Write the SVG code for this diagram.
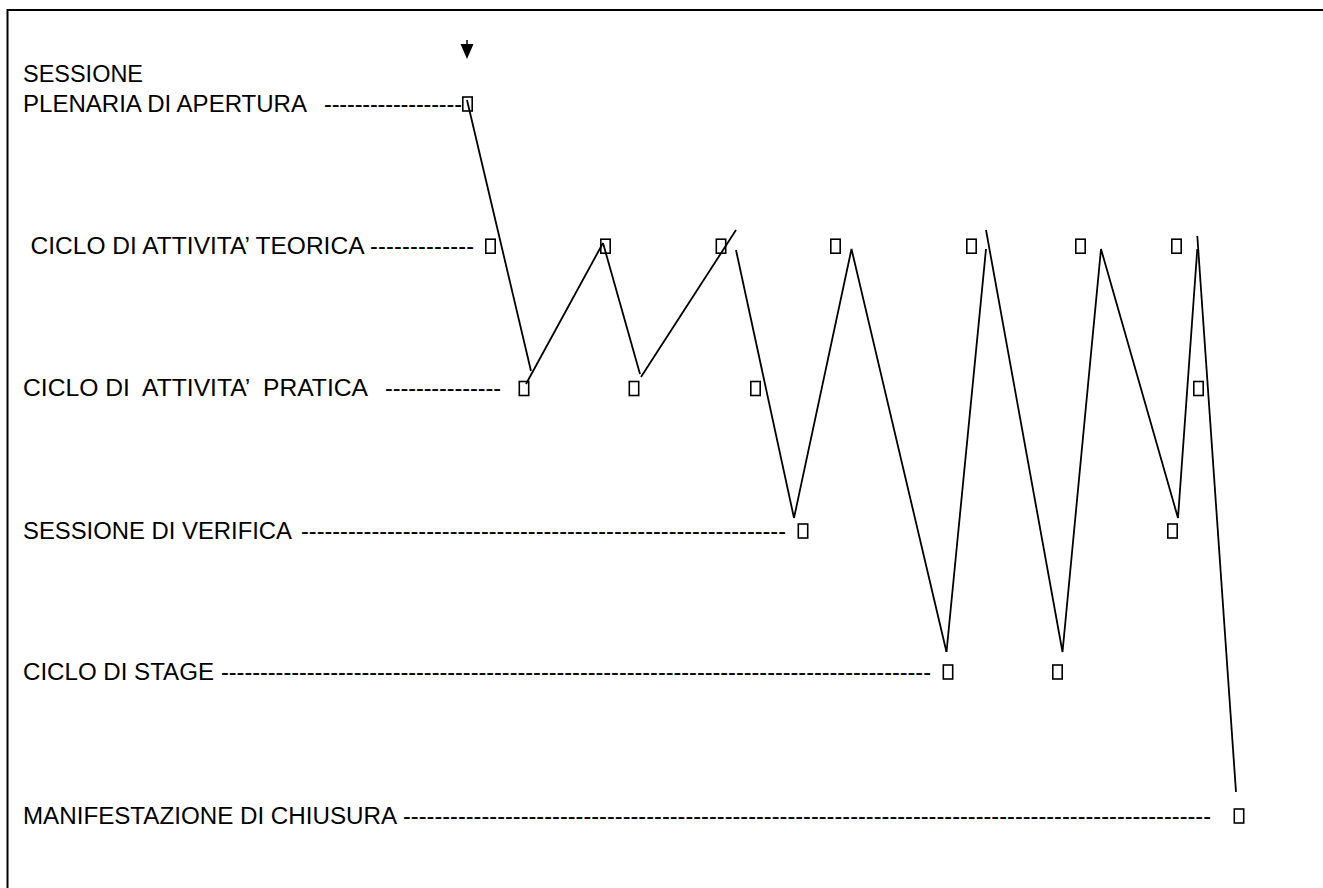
<svg xmlns="http://www.w3.org/2000/svg" width="1323" height="888" viewBox="0 0 1323 888">
<style>
.t{font-family:"Liberation Sans",Arial,sans-serif;font-size:23.5px;fill:#000}
.b{fill:#fff;stroke:#000;stroke-width:1.6}
.c{fill:none;stroke:#000;stroke-width:1.8;stroke-linejoin:miter}
</style>
<rect x="7.5" y="10" width="1400" height="1000" fill="#fff" stroke="#000" stroke-width="2"/>
<g id="start-arrow">
<line x1="467" y1="40" x2="467" y2="46" stroke="#000" stroke-width="1.5"/>
<polygon points="460.5,44 473.5,44 467,59" fill="#000"/>
</g>
<g id="node-apertura">
<text class="t" x="23" y="81.7" textLength="120" lengthAdjust="spacingAndGlyphs">SESSIONE</text>
<text class="t" x="23" y="111.5" textLength="284" lengthAdjust="spacingAndGlyphs">PLENARIA DI APERTURA</text>
<text class="t" x="324" y="111.5" textLength="138" lengthAdjust="spacing">------------------</text>
<rect class="b" x="462.8" y="97" width="9.4" height="14"/>
</g>
<g id="node-teorica">
<text class="t" x="30.5" y="253.5" textLength="334" lengthAdjust="spacingAndGlyphs">CICLO DI ATTIVITA’ TEORICA</text>
<text class="t" x="370" y="253.5" textLength="104" lengthAdjust="spacing">-------------</text>
<rect class="b" x="485.8" y="239.2" width="9.4" height="14"/>
<rect class="b" x="600.8" y="239.2" width="9.4" height="14"/>
<rect class="b" x="716.3" y="239.2" width="9.4" height="14"/>
<rect class="b" x="830.8" y="239.2" width="9.4" height="14"/>
<rect class="b" x="966.8" y="239.2" width="9.4" height="14"/>
<rect class="b" x="1075.8" y="239.2" width="9.4" height="14"/>
<rect class="b" x="1171.8" y="239.2" width="9.4" height="14"/>
</g>
<g id="node-pratica">
<text class="t" x="23" y="396" xml:space="preserve" textLength="345" lengthAdjust="spacingAndGlyphs">CICLO DI  ATTIVITA’  PRATICA</text>
<text class="t" x="385" y="396" textLength="116" lengthAdjust="spacing">---------------</text>
<rect class="b" x="519.3" y="381.5" width="9.4" height="14"/>
<rect class="b" x="629.3" y="381.5" width="9.4" height="14"/>
<rect class="b" x="750.8" y="381.5" width="9.4" height="14"/>
<rect class="b" x="1193.8" y="381.5" width="9.4" height="14"/>
</g>
<g id="node-verifica">
<text class="t" x="23" y="538.5" textLength="269" lengthAdjust="spacingAndGlyphs">SESSIONE DI VERIFICA</text>
<text class="t" x="301" y="538.5" textLength="485" lengthAdjust="spacing">--------------------------------------------------------------</text>
<rect class="b" x="798.3" y="524" width="9.4" height="14"/>
<rect class="b" x="1167.8" y="524" width="9.4" height="14"/>
</g>
<g id="node-stage">
<text class="t" x="23" y="679.5" textLength="191" lengthAdjust="spacingAndGlyphs">CICLO DI STAGE</text>
<text class="t" x="221" y="679.5" textLength="710" lengthAdjust="spacing">-------------------------------------------------------------------------------------------</text>
<rect class="b" x="943.3" y="665" width="9.4" height="14"/>
<rect class="b" x="1052.8" y="665" width="9.4" height="14"/>
</g>
<g id="node-chiusura">
<text class="t" x="23" y="823.5" textLength="374" lengthAdjust="spacingAndGlyphs">MANIFESTAZIONE DI CHIUSURA</text>
<text class="t" x="403" y="823.5" textLength="808" lengthAdjust="spacing">-------------------------------------------------------------------------------------------------------</text>
<rect class="b" x="1234.3" y="809" width="9.4" height="14"/>
</g>
<g id="connectors">
<line class="c" x1="467" y1="100" x2="531" y2="371"/>
<line class="c" x1="526" y1="384" x2="603" y2="243"/>
<line class="c" x1="603" y1="243" x2="640" y2="374"/>
<line class="c" x1="641" y1="377" x2="736" y2="230"/>
<line class="c" x1="736" y1="250" x2="794" y2="518"/>
<polyline class="c" points="794,518 851.5,249 946.5,652"/>
<line class="c" x1="946.5" y1="652" x2="986" y2="249"/>
<polyline class="c" points="986,230 1062.5,652 1101,249 1178,518 1197.3,249"/>
<line class="c" x1="1197.3" y1="236" x2="1236" y2="792"/>
</g>
</svg>
